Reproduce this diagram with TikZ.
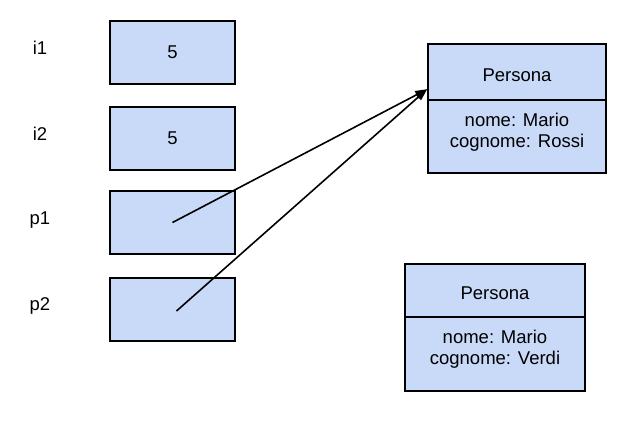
\documentclass[tikz,border=0pt]{standalone}
\usepackage{fontspec}
\setmainfont{Liberation Sans}
\usetikzlibrary{arrows.meta}
\definecolor{boxblue}{HTML}{C9DAF8}
\begin{document}
\begin{tikzpicture}[x=1pt,y=-1pt,
  cell/.style={draw=black,line width=1.6pt,fill=boxblue,minimum width=125pt,minimum height=63pt,inner sep=0pt,font=\fontsize{18.5}{21}\selectfont},
  part/.style={draw=black,line width=1.6pt,fill=boxblue,inner sep=0pt,align=center,font=\fontsize{18.5}{20.5}\selectfont},
  lbl/.style={font=\fontsize{18.5}{21}\selectfont},
  ptr/.style={line width=1.6pt,-{Triangle[length=12pt,width=8pt]}}]
\useasboundingbox (0,0) rectangle (641,424);
\node[lbl] (li1) at (40,48) {i1};
\node[lbl] (li2) at (40,134) {i2};
\node[lbl] (lp1) at (40,220) {p1};
\node[lbl] (lp2) at (40,306) {p2};
\node[cell] (i1) at (172.5,52.5) {5};
\node[cell] (i2) at (172.5,138.5) {5};
\node[cell] (p1) at (172.5,222.5) {};
\node[cell] (p2) at (172.5,309.5) {};
\node[part,minimum width=178pt,minimum height=56pt] (r1head) at (517,72) {};
\node[part,minimum width=178pt,minimum height=73pt] (r1body) at (517,136.5) {};
\node[font=\fontsize{18.5}{20.5}\selectfont] (r1t) at (517,75) {Persona};
\node[font=\fontsize{18.5}{20.5}\selectfont,align=center] (r1a) at (517,132) {nome: Mario\\cognome: Rossi};
\node[part,minimum width=180pt,minimum height=53pt] (r2head) at (495,290.5) {};
\node[part,minimum width=180pt,minimum height=74pt] (r2body) at (495,354) {};
\node[font=\fontsize{18.5}{20.5}\selectfont] (r2t) at (495,293) {Persona};
\node[font=\fontsize{18.5}{20.5}\selectfont,align=center] (r2a) at (495,349) {nome: Mario\\cognome: Verdi};
\coordinate (tip) at ([yshift=10pt]r1body.north west);
\draw[ptr] (p1.center) -- (tip);
\draw[ptr] (p2.center) ++(4,1.5) -- (tip);
\end{tikzpicture}
\end{document}
